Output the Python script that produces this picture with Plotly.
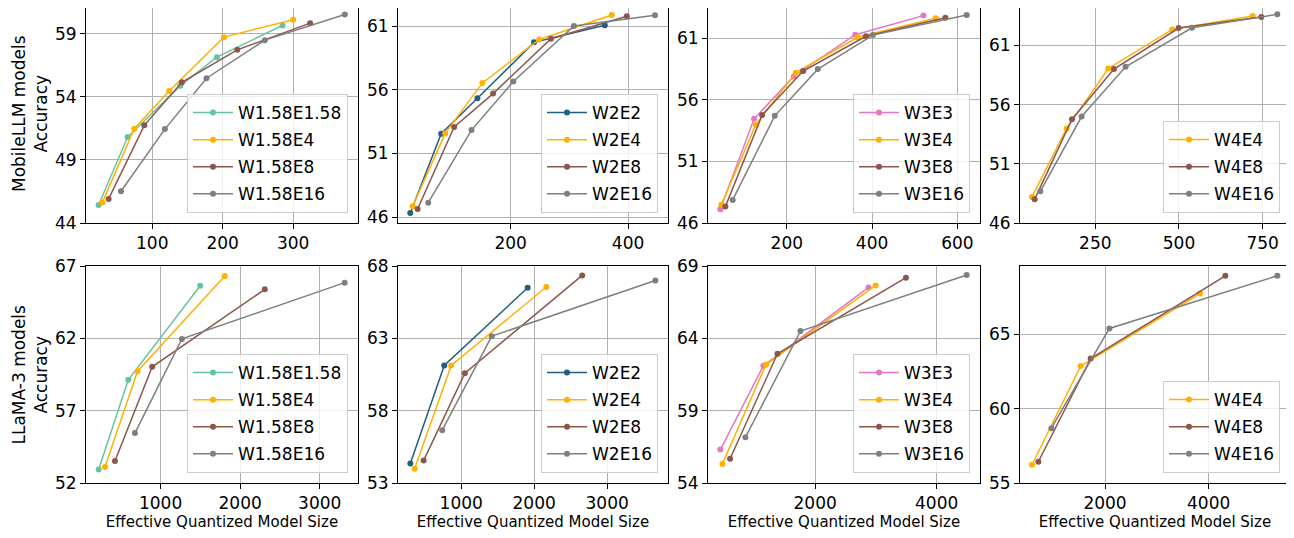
import plotly.graph_objects as go
from plotly.subplots import make_subplots

# ---- data (x = effective quantized model size, y = accuracy) ----
# MobileLLM models (top row)
mob_w158_names = ["W1.58E1.58", "W1.58E4", "W1.58E8", "W1.58E16"]
mob_w158_x = [[23.9, 65.0, 140.0, 191.7, 284.9],
              [29.1, 74.5, 124.1, 201.7, 300.0],
              [38.1, 88.7, 142.1, 220.6, 324.1],
              [55.6, 118.0, 177.0, 259.8, 373.3]]
mob_w158_y = [[45.43, 50.82, 54.9, 57.16, 59.68],
              [45.62, 51.48, 54.48, 58.75, 60.13],
              [45.91, 51.75, 55.17, 57.74, 59.86],
              [46.52, 51.45, 55.49, 58.51, 60.55]]

mob_w2_names = ["W2E2", "W2E4", "W2E8", "W2E16"]
mob_w2_x = [[28.9, 81.6, 143.3, 239.7, 360.3],
            [32.9, 88.4, 151.8, 248.7, 372.2],
            [41.4, 103.7, 170.0, 268.6, 397.8],
            [59.5, 133.2, 204.5, 307.6, 445.9]]
mob_w2_y = [[46.32, 52.55, 55.34, 59.74, 61.08],
            [46.84, 52.58, 56.55, 59.97, 61.89],
            [46.63, 53.08, 55.71, 60.03, 61.79],
            [47.13, 52.84, 56.66, 61.03, 61.87]]

mob_w3_names = ["W3E3", "W3E4", "W3E8", "W3E16"]
mob_w3_x = [[44.2, 123.3, 216.4, 360.5, 520.2],
            [46.6, 127.2, 221.1, 366.0, 549.1],
            [56.0, 142.1, 238.4, 385.5, 571.8],
            [73.2, 171.8, 272.8, 402.0, 621.9]]
mob_w3_y = [[47.11, 54.45, 57.89, 61.27, 62.82],
            [47.49, 53.96, 58.19, 61.06, 62.60],
            [47.33, 54.75, 58.32, 61.14, 62.65],
            [47.87, 54.69, 58.48, 61.24, 62.87]]

mob_w4_names = ["W4E4", "W4E8", "W4E16"]
mob_w4_x = [[60.8, 164.3, 288.8, 480.1, 720.1],
            [68.7, 180.3, 305.8, 499.0, 746.0],
            [85.7, 209.2, 340.6, 538.8, 793.8]]
mob_w4_y = [[48.2, 53.98, 59.05, 62.35, 63.48],
            [48.0, 54.77, 59.0, 62.46, 63.39],
            [48.68, 54.99, 59.19, 62.49, 63.62]]

# LLaMA-3 models (bottom row)
llama_w158_names = ["W1.58E1.58", "W1.58E4", "W1.58E8", "W1.58E16"]
llama_w158_x = [[222, 594, 1498],
                [301, 711, 1807],
                [427, 895, 2310],
                [678, 1268, 3314]]
llama_w158_y = [[52.94, 59.13, 65.64],
                [53.10, 59.73, 66.31],
                [53.52, 60.03, 65.39],
                [55.45, 61.96, 65.85]]

llama_w2_names = ["W2E2", "W2E4", "W2E8", "W2E16"]
llama_w2_x = [[303, 768, 1911],
              [362, 863, 2166],
              [485, 1050, 2658],
              [740, 1419, 3661]]
llama_w2_y = [[54.34, 61.12, 66.5],
              [53.99, 61.12, 66.55],
              [54.55, 60.59, 67.35],
              [56.65, 63.15, 67.0]]

llama_w3_names = ["W3E3", "W3E4", "W3E8", "W3E16"]
llama_w3_x = [[440, 1148, 2879],
              [473, 1192, 2995],
              [599, 1379, 3495],
              [852, 1758, 4495]]
llama_w3_y = [[56.31, 62.10, 67.52],
              [55.32, 62.19, 67.66],
              [55.68, 62.93, 68.19],
              [57.16, 64.5, 68.38]]

llama_w4_names = ["W4E4", "W4E8", "W4E16"]
llama_w4_x = [[592, 1531, 3833],
              [714, 1723, 4322],
              [965, 2084, 5325]]
llama_w4_y = [[56.23, 62.87, 67.75],
              [56.43, 63.37, 68.94],
              [58.69, 65.40, 68.94]]

# colour per series name
colors = {
    "W1.58E1.58": "#66c2a5", "W2E2": "#225e80", "W3E3": "#e377c2",
    "W1.58E4": "#ffb000", "W2E4": "#ffb000", "W3E4": "#ffb000", "W4E4": "#ffb000",
    "W1.58E8": "#8c564b", "W2E8": "#8c564b", "W3E8": "#8c564b", "W4E8": "#8c564b",
    "W1.58E16": "#7f7f7f", "W2E16": "#7f7f7f", "W3E16": "#7f7f7f", "W4E16": "#7f7f7f",
}

panels = [
    (1, 1, mob_w158_names, mob_w158_x, mob_w158_y),
    (1, 2, mob_w2_names, mob_w2_x, mob_w2_y),
    (1, 3, mob_w3_names, mob_w3_x, mob_w3_y),
    (1, 4, mob_w4_names, mob_w4_x, mob_w4_y),
    (2, 1, llama_w158_names, llama_w158_x, llama_w158_y),
    (2, 2, llama_w2_names, llama_w2_x, llama_w2_y),
    (2, 3, llama_w3_names, llama_w3_x, llama_w3_y),
    (2, 4, llama_w4_names, llama_w4_x, llama_w4_y),
]

# axis settings per panel: (x range, x ticks, y range, y ticks)
axis_cfg = [
    ([6, 392], [100, 200, 300], [44, 61.3], [44, 49, 54, 59]),
    ([8, 468], [200, 400], [45.53, 62.68], [46, 51, 56, 61]),
    ([15.3, 653], [200, 400, 600], [46, 63.68], [46, 51, 56, 61]),
    ([25, 831.7], [250, 500, 750], [46, 64.41], [46, 51, 56, 61]),
    ([63, 3481], [1000, 2000, 3000], [52, 67], [52, 57, 62, 67]),
    ([134, 3834], [1000, 2000, 3000], [53, 68], [53, 58, 63, 68]),
    ([236, 4714], [2000, 4000], [54, 69], [54, 59, 64, 69]),
    ([360, 5569], [2000, 4000], [55, 69.6], [55, 60, 65]),
]

W, H = 1294, 538
OFF = 8  # page body margin shifts the figure right/down by 8px
col_px = [(86, 358), (398, 668), (708, 980), (1020, 1290)]
row_px = [(5, 223), (266, 483)]

FONT = "DejaVu Sans"


def px_x(p):
    return (p - OFF) / W


def px_y(p):
    return 1 - (p - OFF) / H


fig = make_subplots(rows=2, cols=4)

for i, (r, c, names, xs, ys) in enumerate(panels):
    leg = "legend" if i == 0 else f"legend{i + 1}"
    for name, x, y in zip(names, xs, ys):
        fig.add_trace(go.Scatter(
            x=x, y=y, name=name, mode="lines+markers",
            line=dict(color=colors[name], width=1.5),
            marker=dict(color=colors[name], size=6),
            legend=leg, legendgroup=f"{leg}-{name}"
        ), row=r, col=c)

    xr, xt, yr, yt = axis_cfg[i]
    x0, x1 = col_px[c - 1]
    y0, y1 = row_px[r - 1]
    # the top of the page can't be reached; clip the panel and its range together
    if y0 < OFF:
        yr = [yr[0], yr[0] + (yr[1] - yr[0]) * (y1 - OFF) / (y1 - y0)]
        y0 = OFF
    axis_style = dict(showgrid=True, gridcolor="#b0b0b0", gridwidth=1,
                      showline=True, linecolor="black", linewidth=1, mirror=True,
                      ticks="outside", ticklen=5, tickcolor="black",
                      tickfont=dict(family=FONT, size=17, color="black"),
                      zeroline=False, automargin=False)
    fig.update_xaxes(range=xr, tickvals=xt, domain=[px_x(x0), px_x(x1)],
                     row=r, col=c, **axis_style)
    fig.update_yaxes(range=yr, tickvals=yt, domain=[px_y(y1), px_y(y0)],
                     row=r, col=c, **axis_style)
    if r == 2:
        fig.update_xaxes(title=dict(text="Effective Quantized Model Size",
                                    font=dict(family=FONT, size=15, color="black"),
                                    standoff=3), row=r, col=c)

    # legend in the lower right corner of each panel
    fig.update_layout({leg: dict(
        x=px_x(x1 - 10), y=px_y(y1 - 10), xanchor="right", yanchor="bottom",
        xref="paper", yref="paper",
        bgcolor="rgba(255,255,255,0.8)", bordercolor="#cccccc", borderwidth=1,
        font=dict(family=FONT, size=17, color="black"),
        itemwidth=40, tracegroupgap=2,
    )})

# row labels
for text, (y0, y1) in zip(["MobileLLM models<br>Accuracy", "LLaMA-3 models<br>Accuracy"], row_px):
    fig.add_annotation(text=text, textangle=-90, x=px_x(30), y=px_y((y0 + y1) / 2),
                       xref="paper", yref="paper", xanchor="center", yanchor="middle",
                       showarrow=False, font=dict(family=FONT, size=17, color="black"))

fig.update_layout(
    width=W, height=H,
    margin=dict(l=0, r=0, t=0, b=0),
    plot_bgcolor="white", paper_bgcolor="white",
    font=dict(family=FONT, color="black"),
)

fig.write_html("out.html")
